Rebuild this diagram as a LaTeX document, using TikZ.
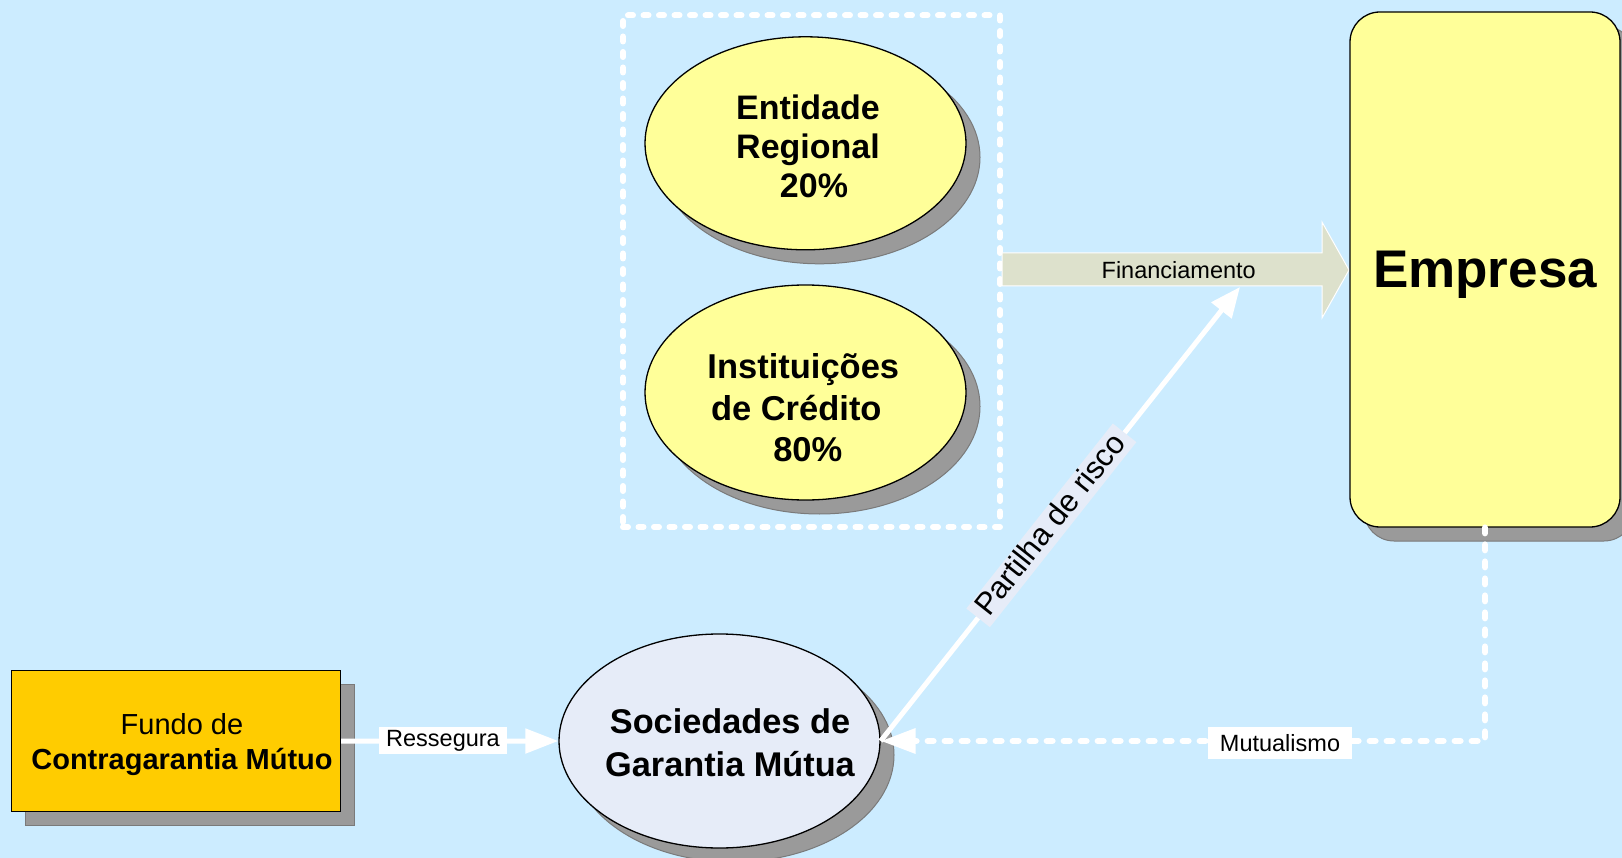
\documentclass[tikz,border=0pt]{standalone}
\usepackage{fontspec}
\setmainfont{Liberation Sans}
\usetikzlibrary{shapes.geometric,arrows.meta,shadows,calc}
\definecolor{bgblue}{HTML}{CCECFF}
\definecolor{lightyellow}{HTML}{FFFF99}
\definecolor{gold}{HTML}{FFCC00}
\definecolor{lavender}{HTML}{E6ECF8}
\definecolor{khaki}{HTML}{DDE1CC}
\definecolor{shadowgray}{HTML}{9A9A9A}
\definecolor{shadowedge}{HTML}{7A7A7A}
\begin{document}
\begin{tikzpicture}[x=1pt,y=-1pt,
  shadowed/.style={drop shadow={shadow xshift=14pt,shadow yshift=-14pt,opacity=1,fill=shadowgray,draw=shadowedge,line width=1pt}},
  oval/.style={ellipse,draw=black,line width=1.3pt,inner sep=0pt,shadowed},
  boldtext/.style={font=\bfseries\fontsize{34}{39}\selectfont,align=center,inner sep=0pt},
  lbl/.style={font=\fontsize{23.5}{28}\selectfont,inner sep=0pt},
  whiteline/.style={draw=white,line width=5pt},
  dashedwhite/.style={draw=white,line width=6.5pt,line cap=round,dash pattern=on 5.5pt off 11.5pt},
  groupbox/.style={draw=white,line width=6pt,line cap=round,dash pattern=on 5pt off 10.5pt,inner sep=0pt},
]
\useasboundingbox (0,0) rectangle (1622,858);
\fill[bgblue] (0,0) rectangle (1622,858);

% dashed group box
\node[groupbox,minimum width=377pt,minimum height=511.5pt] (grp) at (811.5,271.25) {};

% Financiamento arrow
\fill[khaki,draw=white,line width=1pt] (1002,253) -- (1322,253) -- (1322,222) -- (1349,270) -- (1322,318) -- (1322,286) -- (1002,286) -- cycle;
\node[lbl] (fin) at (1178.7,270) {Financiamento};

% ellipses in the group
\node[oval,fill=lightyellow,minimum width=321pt,minimum height=213pt] (er) at (805.5,143.3) {};
\node[boldtext] (ertxt) at (808,146) {Entidade\\Regional\\\rule{12pt}{0pt}20\%};
\node[oval,fill=lightyellow,minimum width=321pt,minimum height=215pt] (ic) at (805.5,392.5) {};
\node[boldtext,font=\bfseries\fontsize{34.5}{41.5}\selectfont] (ictxt) at (803.3,408) {Instituições\\de Crédito\rule{14pt}{0pt}\\\rule{9pt}{0pt}80\%};

% Empresa
\node[draw=black,line width=1.3pt,fill=lightyellow,rounded corners=30pt,minimum width=270pt,minimum height=515pt,inner sep=0pt,shadowed] (emp) at (1485,269.5) {};
\node[font=\bfseries\fontsize{53}{60}\selectfont,anchor=base,inner sep=0pt] (emptxt) at (1485,288) {Empresa};

% Fundo
\node[draw=black,line width=1pt,fill=gold,minimum width=329pt,minimum height=141pt,inner sep=0pt,shadowed] (fcm) at (176.2,741.2) {};
\node[font=\fontsize{29}{35.6}\selectfont,align=center,inner sep=0pt] (fcmtxt) at (182,744.5) {Fundo de\\\textbf{Contragarantia Mútuo}};

% Sociedades
\node[oval,fill=lavender,minimum width=321pt,minimum height=214pt] (sgm) at (719.5,741) {};
\node[boldtext,font=\bfseries\fontsize{34.3}{43.3}\selectfont] (sgmtxt) at (730,743) {Sociedades de\\Garantia Mútua};

% Ressegura
\draw[whiteline,-{Triangle[length=33pt,width=24pt]}] (fcm.east) -- (sgm.west);
\node[lbl,fill=white,minimum width=128pt,minimum height=27pt] (res) at (443,740.5) {Ressegura};

% Partilha de risco
\coordinate (finbot) at (1240,287);
\draw[whiteline,-{Triangle[length=30pt,width=25pt]}] (sgm.east) -- (finbot)
  node[pos=0.475,sloped,fill=lavender,font=\fontsize{31}{36}\selectfont,inner sep=0pt,text height=23pt,text depth=6pt,minimum width=236pt,minimum height=30pt] (par) {Partilha de risco};

% Mutualismo
\coordinate (mcorner) at (emp.south |- sgm.east);
\draw[dashedwhite,-{Triangle[length=35pt,width=24pt]}] (emp.south) -- (mcorner) -- (sgm.east);
\node[lbl,fill=white,minimum width=144pt,minimum height=32pt] (mut) at (1280,743) {Mutualismo};
\end{tikzpicture}
\end{document}
